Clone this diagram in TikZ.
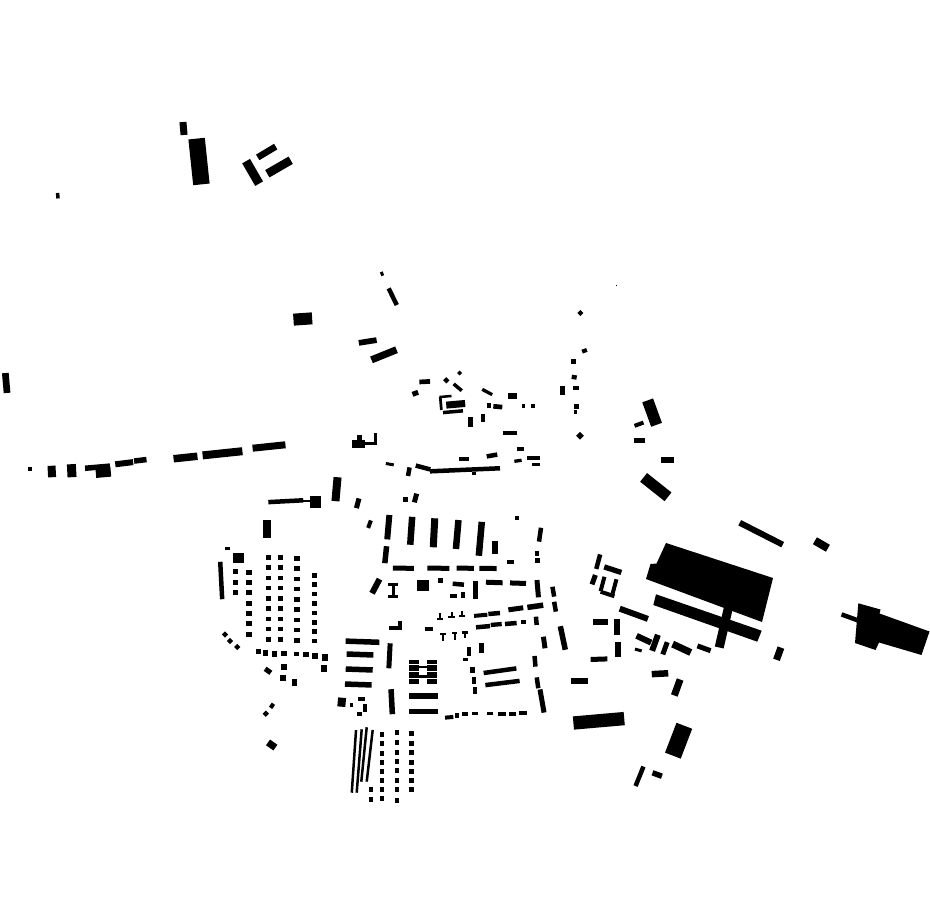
\documentclass[tikz,border=0pt]{standalone}
\usepackage{tikz}
\newcommand{\bldg}[5]{\fill[plan,shift={(#1,#2)},rotate=#5] (-#3/2,-#4/2) rectangle (#3/2,#4/2);}
\begin{document}
\begin{tikzpicture}[x=0.5pt, y=-0.5pt, plan/.style={fill=black}]
   \useasboundingbox (0,0) rectangle (930,924);
   \bldg{183.5}{128.5}{7}{13}{5}
   \bldg{199}{161.5}{16.5}{46}{6}
   \bldg{252.6}{172.4}{9}{26}{30}
   \bldg{266.7}{152}{21}{6.5}{31}
   \bldg{279}{167}{27}{8.5}{30}
   \bldg{57.8}{195.7}{3.5}{5.5}{5}
   \bldg{302.8}{319}{18.7}{12}{4}
   \bldg{6.2}{383}{6.7}{20}{5}
   \bldg{30}{469.2}{4}{4}{0}
   \bldg{51.8}{471.5}{8}{11.5}{3}
   \bldg{71.7}{470.7}{9}{13}{3}
   \bldg{97.5}{467.2}{25}{5.5}{5}
   \bldg{103.3}{472.3}{15}{10}{5}
   \bldg{124.2}{463.2}{18}{6}{7}
   \bldg{140.3}{460.3}{12.5}{5.5}{7}
   \bldg{185.5}{457.5}{24}{7.5}{6}
   \bldg{222.5}{453.3}{40}{8}{6}
   \bldg{269}{446.5}{33}{7}{6}
   \bldg{285.8}{501.2}{35}{4.5}{3}
   \bldg{315.3}{502.2}{10.5}{12}{0}
   \fill[plan] (303,499.5) rectangle (311,501.5);
   \bldg{382}{273.8}{3}{4}{20}
   \bldg{392.7}{296.7}{4.5}{18.5}{26}
   \bldg{367.7}{341.5}{18}{5.7}{9}
   \bldg{384}{354.8}{27}{7.1}{22}
   \bldg{459.7}{373}{3.5}{3.5}{45}
   \bldg{424.7}{381.7}{10.7}{4.7}{3}
   \bldg{446.3}{380.3}{4.5}{4.5}{45}
   \bldg{457.7}{387.3}{10.5}{3.5}{-40}
   \bldg{415.3}{393.3}{6}{5}{20}
   \bldg{455.7}{404.3}{19}{7}{5}
   \bldg{445.5}{396.5}{12}{2.5}{5}
   \bldg{440.8}{403.5}{2.7}{13}{5}
   \bldg{453}{411.7}{20}{3.5}{5}
   \bldg{487.2}{392}{11.3}{3.3}{-28}
   \bldg{512.5}{395.8}{8.3}{5.7}{0}
   \bldg{488.8}{405.5}{4.3}{4.3}{0}
   \bldg{497.8}{406.7}{9}{4.7}{-5}
   \bldg{523.5}{406}{3.7}{4}{0}
   \bldg{532.7}{405.7}{4}{4}{0}
   \bldg{470.3}{422}{4.7}{9.3}{0}
   \bldg{482.8}{418}{4.3}{8.7}{0}
   \bldg{509.8}{432.8}{13.7}{4.3}{0}
   \bldg{520.8}{449}{7}{4.7}{0}
   \bldg{492}{455.5}{10.7}{4.5}{10}
   \bldg{464.3}{459.3}{10}{3.8}{0}
   \bldg{518}{460.8}{7.3}{3.3}{8}
   \bldg{533.3}{458}{13}{3.5}{0}
   \bldg{536.2}{464}{7.7}{3}{0}
   \bldg{423}{467.5}{15}{4.5}{-15}
   \bldg{465}{469.8}{70}{4.5}{2.5}
   \bldg{474}{473}{4}{3}{0}
   \bldg{408.8}{471.7}{4.5}{8.7}{-10}
   \bldg{389.8}{464.2}{8}{3}{-10}
   \fill[plan] (352.3,440) rectangle (365,448.3);
   \fill[plan] (357.3,435) rectangle (361.7,440);
   \fill[plan] (361.7,441.7) rectangle (376.7,444.5);
   \fill[plan] (373.5,433) rectangle (376.5,444.5);
   \bldg{580.3}{313}{4.3}{4.3}{45}
   \bldg{584.5}{350.8}{5}{4}{20}
   \bldg{573.5}{361.7}{5}{5}{0}
   \bldg{574.2}{377.2}{5}{4.3}{-10}
   \bldg{576}{387.8}{5.3}{4.3}{0}
   \bldg{562.5}{390.3}{5}{9.3}{0}
   \bldg{576.5}{406.3}{5}{4.5}{0}
   \bldg{575.7}{412}{3.3}{4}{0}
   \bldg{580}{435.8}{5.5}{5.5}{45}
   \bldg{616.7}{285.7}{1.2}{1.2}{0}
   \bldg{336.5}{489.2}{8}{24}{-5}
   \bldg{357.7}{503.3}{5}{10}{-15}
   \bldg{267.2}{529.2}{7.5}{18}{0}
   \bldg{369.5}{524.2}{4}{8}{-20}
   \bldg{405.5}{499.7}{5}{5.5}{0}
   \bldg{415.5}{498}{5}{9}{-15}
   \bldg{388.3}{527.2}{6}{24.5}{-5}
   \bldg{411.2}{530.8}{6.5}{28}{-4}
   \bldg{434}{532.8}{7}{29}{-3}
   \bldg{457.2}{534.5}{6.5}{29}{-5}
   \bldg{480.3}{538.8}{6.5}{34}{-5}
   \bldg{495}{547.3}{6}{13}{0}
   \bldg{516.8}{518.3}{4}{4}{0}
   \bldg{540}{534.7}{4.5}{14}{-8}
   \bldg{537.2}{553.5}{4.3}{5}{0}
   \bldg{537.5}{560.8}{5}{5}{0}
   \bldg{510.3}{562.2}{7.3}{4.3}{0}
   \bldg{385.7}{554.7}{5.5}{17}{-6}
   \bldg{403.3}{568.2}{21}{5}{-1}
   \bldg{438.3}{568.2}{22}{5}{-1}
   \bldg{465.3}{568.2}{17.3}{5}{-1}
   \bldg{488}{568.4}{17.3}{5}{-1}
   \bldg{375.8}{586.2}{6}{16}{-28}
   \fill[plan] (388.3,582.7) rectangle (398.3,586.2);
   \fill[plan] (391.5,586.2) rectangle (395,595);
   \fill[plan] (388.3,595) rectangle (398.3,598.3);
   \bldg{423.2}{585.5}{11.7}{11}{0}
   \bldg{440}{580.5}{5}{4.3}{0}
   \bldg{458.3}{584.2}{11.3}{4.5}{-5}
   \bldg{453}{595.8}{7}{3.7}{0}
   \bldg{462.8}{595.3}{4.3}{6}{0}
   \bldg{475.8}{590}{5}{18}{0}
   \bldg{494.3}{582.5}{16.7}{5}{-2}
   \bldg{518}{583.2}{16}{5}{-2}
   \bldg{537.7}{588.7}{5}{17.3}{5}
   \bldg{553.3}{591.7}{4.5}{10}{10}
   \bldg{555}{606.7}{4.5}{10}{10}
   \fill[plan] (437.3,617.5) rectangle (443.3,620);
   \fill[plan] (439.3,613.3) rectangle (441.3,617.5);
   \fill[plan] (448.3,616) rectangle (455,618.3);
   \fill[plan] (450.7,612) rectangle (452.7,616);
   \fill[plan] (459.3,614.5) rectangle (465.3,616.7);
   \fill[plan] (461.3,610.7) rectangle (463.3,614.5);
   \bldg{480.7}{615.3}{13.3}{4}{5}
   \bldg{494.2}{613.5}{11.7}{4.5}{5}
   \bldg{515.8}{608.8}{15}{5}{8}
   \bldg{535.3}{606.3}{16}{5.5}{8}
   \bldg{429.2}{628.8}{8.3}{4}{0}
   \fill[plan] (440,632.7) rectangle (446,635.2);
   \fill[plan] (442,635.2) rectangle (444,640.7);
   \fill[plan] (451.7,631.7) rectangle (457.3,634.2);
   \fill[plan] (453.5,634.2) rectangle (455.5,640);
   \fill[plan] (461.7,631) rectangle (468.3,633.5);
   \fill[plan] (464,633.5) rectangle (466,638.3);
   \bldg{483}{626.7}{14}{4.5}{5}
   \bldg{496.2}{624.5}{11}{4.3}{5}
   \bldg{510.8}{623.5}{11.7}{4.5}{5}
   \bldg{523.3}{622}{5}{3.5}{0}
   \bldg{536.3}{620.8}{4.5}{8.3}{5}
   \bldg{469.2}{651.7}{4.5}{8.7}{0}
   \bldg{481.7}{648}{4.5}{9.3}{0}
   \bldg{465.8}{659.7}{5}{2.7}{0}
   \bldg{472.5}{670}{4.5}{6.6}{0}
   \bldg{473.8}{680.7}{4.3}{6.7}{0}
   \bldg{475.3}{690.7}{4}{6.7}{0}
   \bldg{500}{670.7}{33}{4.5}{8}
   \bldg{502.5}{683}{34.5}{4.5}{7}
   \bldg{535}{661.3}{4.5}{10.7}{5}
   \bldg{537.5}{682.8}{4.5}{11}{8}
   \bldg{542}{701}{5}{23.5}{10}
   \bldg{544.2}{642.5}{5}{11.7}{8}
   \bldg{562.8}{638}{5.5}{24}{12}
   \bldg{449.2}{717.3}{8.3}{4}{5}
   \bldg{457.2}{715.5}{4.3}{5.6}{0}
   \bldg{465}{714.2}{6.7}{3.7}{0}
   \bldg{475}{713.3}{6.7}{3.3}{0}
   \bldg{490}{713.5}{6.7}{3.6}{0}
   \bldg{502.2}{714.2}{7.7}{3.7}{0}
   \bldg{512.7}{713.8}{6.7}{3.7}{0}
   \bldg{523}{713.3}{7.3}{4}{0}
   \bldg{227.5}{548.3}{5}{3.3}{0}
   \bldg{238.8}{557.7}{11}{10}{0}
   \bldg{221.2}{580.5}{4.5}{37.5}{3}
   \foreach \y in {571.8,582,592.2} {\bldg{235.5}{\y}{5.5}{5}{0}}
   \foreach \y in {572.3,582.3,592.3,603.3,613.7,623.7,634} {\bldg{249}{\y}{5.5}{5}{0}}
   \foreach \x in {268.3,280.3} {\foreach \k in {0,...,8} {\bldg{\x}{557.3+10.25*\k}{5.5}{4.5}{0}}}
   \foreach \k in {0,...,8} {\bldg{297.2}{558.3+10.25*\k}{5.5}{4.5}{0}}
   \foreach \k in {0,...,7} {\bldg{314.5}{575.3+9.4*\k}{5}{4.5}{0}}
   \bldg{258.3}{651.7}{4.7}{4.7}{0}
   \bldg{265.5}{653}{5.6}{6}{0}
   \bldg{274.2}{653.7}{5}{6}{0}
   \bldg{284.2}{653.3}{6.3}{4.7}{0}
   \bldg{296.5}{653.7}{4.4}{4}{0}
   \bldg{306}{654.8}{5.4}{5}{0}
   \bldg{314.7}{656.2}{6}{5.7}{0}
   \bldg{324.8}{657.7}{6.3}{6.7}{0}
   \bldg{324.2}{668.3}{6.3}{6.7}{0}
   \bldg{225}{634.5}{4.5}{4.5}{45}
   \bldg{230}{641}{4.5}{4.5}{45}
   \bldg{237.3}{647}{4.5}{4.5}{45}
   \bldg{268}{670.8}{7}{5}{-35}
   \bldg{283.8}{667}{5.7}{6}{0}
   \bldg{282.8}{677.8}{5.7}{5.7}{0}
   \bldg{294.2}{682.3}{5}{6.7}{0}
   \bldg{272}{705.8}{4}{5}{-35}
   \bldg{265.8}{713.7}{4.5}{4.5}{45}
   \bldg{271.7}{745}{9}{7}{-35}
   \bldg{362.5}{641.7}{33.7}{5.5}{-2}
   \bldg{360}{654.5}{26.7}{5.5}{-2}
   \bldg{359.2}{669.5}{27}{5.5}{-2}
   \bldg{358.3}{684.5}{26.7}{5.5}{-2}
   \bldg{389.5}{655.8}{5}{25}{-3}
   \bldg{391.7}{701.7}{5.5}{25}{3}
   \bldg{423.7}{695.8}{29.3}{5.5}{0}
   \bldg{423.7}{711.5}{29.3}{5.5}{0}
   \fill[plan] (389.3,626) rectangle (401.7,630);
   \fill[plan] (398.3,620.5) rectangle (401.7,630);
   \fill[plan] (408.5,659.5) rectangle (418.5,683.5);
   \fill[plan] (427,659.5) rectangle (437,683.5);
   \fill[plan] (418.5,665.5) rectangle (427,668);
   \fill[plan] (418.5,675) rectangle (427,677.5);
   \fill[white] (408,663.8) rectangle (437.5,665);
   \fill[white] (408,670.6) rectangle (437.5,671.8);
   \fill[white] (408,678.2) rectangle (437.5,679.4);
   \bldg{341.7}{702.2}{8}{9}{-5}
   \bldg{351.7}{705.3}{3.3}{4}{0}
   \bldg{361.3}{699.2}{7.3}{3.7}{0}
   \bldg{365}{708}{3.4}{7.4}{0}
   \bldg{359.7}{713.7}{4.7}{4}{0}
   \bldg{353.9}{761.4}{2.5}{62.8}{-3.9}
   \bldg{359.2}{761}{2.5}{63.6}{-4.5}
   \bldg{364}{754.5}{2.5}{54.7}{-5.7}
   \bldg{369.7}{755.8}{2.5}{52}{-6.6}
   \foreach \y in {734.2,743.2,753,762.2,771.3,780.8,789.7,798.8} {\bldg{381.7}{\y}{4}{5}{0}}
   \foreach \y in {789.7,799.3} {\bldg{370.8}{\y}{4.5}{5.5}{0}}
   \foreach \y in {732.2,742.5,752.2,761.2,770.5,780.3,789.7,800} {\bldg{396.8}{\y}{4.5}{5}{0}}
   \foreach \y in {733.8,743.5,752.5,762.5,771.8,780.8,789.7} {\bldg{411.7}{\y}{4.5}{5}{0}}
   \bldg{600.8}{622.2}{15}{5.7}{0}
   \bldg{617.2}{627.2}{5.7}{15.7}{0}
   \bldg{617.8}{649.5}{5.7}{15.7}{0}
   \bldg{599}{659.2}{16.7}{5}{2}
   \bldg{579.5}{681.2}{17.7}{5.7}{0}
   \bldg{598.8}{720.8}{51}{13.3}{5}
   \bldg{612.8}{569.7}{18}{5.3}{-18}
   \bldg{598.2}{561.7}{4.5}{15}{-15}
   \bldg{593.7}{579.7}{5}{10}{-20}
   \bldg{602.5}{584}{4}{15}{-15}
   \bldg{607.5}{594}{14.5}{4}{-18}
   \bldg{614.5}{586.5}{4}{15}{-15}
   \bldg{633.8}{613.8}{30}{6}{-20}
   \bldg{643.8}{639.2}{16}{6}{-25}
   \bldg{655}{642.8}{6}{17}{-20}
   \bldg{638.3}{650}{7}{3}{-15}
   \bldg{665}{648.3}{5}{13}{-20}
   \bldg{681.7}{648.3}{20}{7}{-25}
   \bldg{704}{648.3}{14}{5}{-20}
   \bldg{778.7}{653.7}{7}{13}{-20}
   \bldg{660}{673.7}{16.5}{6.5}{3}
   \bldg{677.2}{687.5}{7}{17}{-20}
   \bldg{678.6}{740.7}{16.8}{32}{-21}
   \bldg{639.5}{776.3}{4.5}{21}{-22}
   \bldg{657.2}{774.5}{10}{5.5}{-20}
   \fill[plan] (666,543) -- (773,578) -- (762,622) -- (646,579) -- (650.5,564) -- (656.5,563.5) -- cycle;
   \fill[plan] (656,594.3) -- (761.7,630.7) -- (757.3,641.7) -- (653.3,605) -- cycle;
   \bldg{723.7}{628}{9}{40}{-13}
   \bldg{652.1}{412.6}{11.5}{26}{20}
   \bldg{639}{424.2}{9.5}{4}{20}
   \bldg{639.5}{440.8}{11}{5}{0}
   \bldg{667.5}{460.3}{13}{6}{0}
   \bldg{655.8}{487.1}{31.2}{11.1}{-38.5}
   \bldg{761.2}{533.7}{48.2}{6}{-27}
   \bldg{821.4}{544.5}{15}{8}{-30}
   \fill[plan] (858.3,603.3) -- (880.5,609.5) -- (879.5,613.5) -- (929.5,631.5) -- (921.5,655) -- (879,642.5) -- (875.5,650) -- (855,643) -- cycle;
   \bldg{850}{617.5}{18}{4.5}{-20}
\end{tikzpicture}
\end{document}
